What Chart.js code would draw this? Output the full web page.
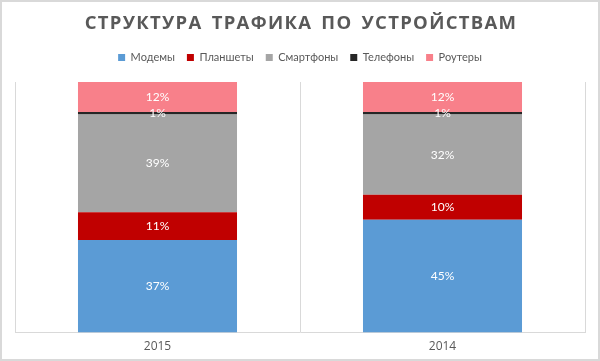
<!DOCTYPE html>
<html>
<head>
<meta charset="utf-8">
<script src="https://cdn.jsdelivr.net/npm/chart.js@4"></script>
<style>
  html, body { margin: 0; padding: 0; background: #fff; }
  #wrap { width: 600px; height: 361px; }
</style>
</head>
<body>
<div id="wrap"><canvas id="traffic"></canvas></div>
<script>
// data (% of traffic)
const years = ['2015', '2014'];
const modems = [37, 45];
const tablets = [11, 10];
const phonesSmart = [39, 32];
const phones = [1, 1];
const routers = [12, 12];

const titleText = 'СТРУКТУРА ТРАФИКА ПО УСТРОЙСТВАМ';

// frame + spaced title, drawn by hand (canvas letterSpacing)
const framePlugin = {
  id: 'frame',
  beforeInit(chart) {
    // more room under the legend
    const fit = chart.legend.fit;
    chart.legend.fit = function () {
      fit.call(this);
      this.height += 9;
    };
  },
  beforeDraw(chart) {
    const c = chart.ctx;
    c.save();
    c.fillStyle = '#fff';
    c.fillRect(0, 0, chart.width, chart.height);
    c.strokeStyle = '#d9d9d9';
    c.lineWidth = 2;
    c.strokeRect(1, 1, chart.width - 2, chart.height - 2);
    c.restore();
  },
  afterDraw(chart) {
    const c = chart.ctx;
    c.save();
    c.letterSpacing = '1.3px';
    c.wordSpacing = '3px';
    c.font = 'bold 18.5px "Open Sans"';
    c.fillStyle = '#595959';
    c.textAlign = 'center';
    c.textBaseline = 'middle';
    c.fillText(titleText, chart.width / 2 + 1, 24);
    c.restore();
  }
};

// value labels in the middle of every segment
const labelPlugin = {
  id: 'segLabels',
  afterDatasetsDraw(chart) {
    const c = chart.ctx;
    c.save();
    c.font = '12px Lato';
    c.fillStyle = '#ffffff';
    c.textAlign = 'center';
    c.textBaseline = 'middle';
    chart.data.datasets.forEach((ds, i) => {
      chart.getDatasetMeta(i).data.forEach((bar, j) => {
        c.fillText(ds.data[j] + '%', bar.x, (bar.y + bar.base) / 2);
      });
    });
    c.restore();
  }
};

function series(label, data, color) {
  return {
    label: label,
    data: data,
    backgroundColor: color,
    borderWidth: 0,
    categoryPercentage: 1,
    barPercentage: 0.558
  };
}

new Chart(document.getElementById('traffic'), {
  type: 'bar',
  data: {
    labels: years,
    datasets: [
      series('Модемы', modems, '#5b9bd5'),
      series('Планшеты', tablets, '#c00000'),
      series('Смартфоны', phonesSmart, '#a5a5a5'),
      series('Телефоны', phones, '#262626'),
      series('Роутеры', routers, '#f8808a')
    ]
  },
  options: {
    responsive: true,
    maintainAspectRatio: false,
    animation: false,
    layout: { padding: { top: 40, left: 15, right: 15, bottom: 0 } },
    plugins: {
      legend: {
        position: 'top',
        labels: {
          boxWidth: 7,
          boxHeight: 7,
          padding: 12,
          color: '#595959',
          font: { family: 'Lato', size: 11 }
        }
      },
      tooltip: { enabled: false }
    },
    scales: {
      x: {
        stacked: true,
        grid: { color: '#d9d9d9', drawTicks: false, offset: true },
        border: { color: '#d9d9d9' },
        ticks: { color: '#595959', padding: 7, font: { family: 'Open Sans', size: 12 } }
      },
      y: {
        stacked: true,
        display: false,
        min: 0,
        max: 100
      }
    }
  },
  plugins: [framePlugin, labelPlugin]
});
</script>
</body>
</html>
